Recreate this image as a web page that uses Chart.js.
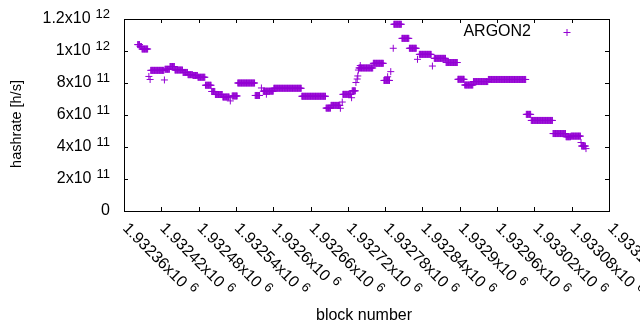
<!DOCTYPE html>
<html><head><meta charset="utf-8">
<script src="https://cdn.jsdelivr.net/npm/chart.js@4"></script>
<style>html,body{margin:0;padding:0;background:#fff}</style>
</head><body>
<canvas id="c" width="640" height="330"></canvas>
<script>
const seriesName = 'ARGON2';
// runs of constant hashrate: first block, last block, value [h/s]
const runStart = [1932382,1932386,1932389,1932400,1932402,1932403,1932425,1932426,1932434,1932442,1932455,1932463,1932471,1932479,1932491,1932501,1932507,1932519,1932531,1932534,1932543,1932571,1932581,1932584,1932589,1932601,1932646,1932685,1932693,1932708,1932711,1932712,1932726,1932727,1932733,1932735,1932736,1932737,1932738,1932740,1932761,1932778,1932784,1932789,1932793,1932794,1932807,1932819,1932832,1932835,1932856,1932859,1932878,1932897,1932908,1932922,1932946,1933007,1933015,1933050,1933071,1933079,1933095,1933096,1933103];
const runEnd   = [1932385,1932388,1932398,1932400,1932402,1932424,1932425,1932433,1932441,1932454,1932462,1932470,1932478,1932490,1932500,1932506,1932518,1932529,1932531,1932542,1932570,1932578,1932581,1932600,1932589,1932645,1932684,1932692,1932707,1932708,1932711,1932725,1932726,1932732,1932733,1932735,1932736,1932737,1932760,1932740,1932777,1932787,1932784,1932789,1932793,1932806,1932818,1932830,1932832,1932854,1932856,1932877,1932896,1932907,1932921,1932945,1933006,1933014,1933049,1933070,1933078,1933094,1933095,1933102,1933103];
const runValue = [1.04e12,1.028e12,1.0125e12,8.41e11,8.22e11,8.79e11,8.19e11,8.86e11,9.03e11,8.81e11,8.66e11,8.52e11,8.47e11,8.36e11,7.86e11,7.47e11,7.28e11,7.125e11,6.88e11,7.19e11,8.0e11,7.22e11,7.69e11,7.49e11,7.3e11,7.67e11,7.17e11,6.43e11,6.6e11,6.42e11,6.81e11,7.29e11,7.08e11,7.51e11,8.03e11,8.25e11,8.44e11,8.81e11,8.94e11,9.09e11,9.23e11,8.16e11,8.39e11,8.71e11,1.017e12,1.167e12,1.079e12,1.017e12,9.48e11,9.79e11,9.06e11,9.54e11,9.28e11,8.23e11,7.875e11,8.09e11,8.22e11,6.04e11,5.66e11,4.84e11,4.64e11,4.68e11,4.28e11,4.06e11,3.9e11];

const xTickValues = [1932360,1932420,1932480,1932540,1932600,1932660,1932720,1932780,1932840,1932900,1932960,1933020,1933080,1933140];
const xTickLabels = ['1.93236x10','1.93242x10','1.93248x10','1.93254x10','1.9326x10','1.93266x10','1.93272x10','1.93278x10','1.93284x10','1.9329x10','1.93296x10','1.93302x10','1.93308x10','1.93314x10'];
const xTickExp = '6';
const yTickValues = [0,2e11,4e11,6e11,8e11,1e12,1.2e12];
const yTickLabels = ['0','2x10','4x10','6x10','8x10','1x10','1.2x10'];
const yTickExps = ['','11','11','11','11','12','12'];
const xTitle = 'block number';
const yTitle = 'hashrate [h/s]';

const COLOR = '#9400d3';
const FONT = '"Liberation Sans", Arial, sans-serif';
const FS = 16, SFS = 13;

const points = [];
for (let i = 0; i < runStart.length; i++) {
  for (let b = runStart[i]; b <= runEnd[i]; b++) points.push({x: b, y: runValue[i]});
}

const frame = {
  id: 'frame',
  afterDraw(chart) {
    const ctx = chart.ctx, a = chart.chartArea, xs = chart.scales.x, ys = chart.scales.y;
    ctx.save();
    ctx.strokeStyle = '#000'; ctx.lineWidth = 1;
    ctx.strokeRect(a.left + 0.5, a.top + 0.5, a.right - a.left, a.bottom - a.top);
    ctx.beginPath();
    const T = 4;
    yTickValues.forEach(v => {
      const py = Math.round(ys.getPixelForValue(v)) + 0.5;
      ctx.moveTo(a.left, py); ctx.lineTo(a.left + T, py);
      ctx.moveTo(a.right, py); ctx.lineTo(a.right - T, py);
    });
    xTickValues.forEach(v => {
      const px = Math.round(xs.getPixelForValue(v)) + 0.5;
      ctx.moveTo(px, a.bottom); ctx.lineTo(px, a.bottom - T);
      ctx.moveTo(px, a.top); ctx.lineTo(px, a.top + T);
    });
    ctx.stroke();

    ctx.fillStyle = '#000';
    ctx.textBaseline = 'middle';
    // y labels
    yTickValues.forEach((v, i) => {
      const py = ys.getPixelForValue(v);
      const R = 110;
      let x = R;
      if (yTickExps[i]) {
        ctx.font = SFS + 'px ' + FONT; ctx.textAlign = 'right';
        ctx.fillText(yTickExps[i], R, py - 5);
        x = R - ctx.measureText(yTickExps[i]).width - 5;
      }
      ctx.font = FS + 'px ' + FONT; ctx.textAlign = 'right';
      ctx.fillText(yTickLabels[i], x, py);
    });
    // x labels rotated
    xTickValues.forEach((v, i) => {
      const px = xs.getPixelForValue(v);
      ctx.save();
      ctx.translate(px + 1, a.bottom + 15);
      ctx.rotate(Math.PI / 4);
      ctx.font = FS + 'px ' + FONT; ctx.textAlign = 'left';
      ctx.fillText(xTickLabels[i], 0, 0);
      const w = ctx.measureText(xTickLabels[i]).width;
      ctx.font = SFS + 'px ' + FONT;
      ctx.fillText(xTickExp, w + 5, -5);
      ctx.restore();
    });
    // titles
    ctx.font = FS + 'px ' + FONT; ctx.textAlign = 'center';
    ctx.fillText(xTitle, 364, 316);
    ctx.save();
    ctx.font = '14.5px ' + FONT;
    ctx.translate(17, 124); ctx.rotate(-Math.PI / 2);
    ctx.fillText(yTitle, 0, 0);
    ctx.restore();
    // legend
    ctx.font = FS + 'px ' + FONT;
    ctx.textAlign = 'right';
    ctx.fillText(seriesName, 531, 32);
    ctx.strokeStyle = COLOR;
    ctx.beginPath();
    ctx.moveTo(563.5, 32.5); ctx.lineTo(570.5, 32.5);
    ctx.moveTo(567, 29); ctx.lineTo(567, 36);
    ctx.stroke();
    ctx.restore();
  }
};

new Chart(document.getElementById('c'), {
  type: 'scatter',
  data: {datasets: [{label: seriesName, data: points, pointStyle: 'cross', pointRadius: 3.5, pointHoverRadius: 3.5, borderWidth: 1, borderColor: COLOR, backgroundColor: COLOR}]},
  options: {
    responsive: false, animation: false, devicePixelRatio: 1, events: [],
    layout: {padding: {left: 124, right: 31, top: 19, bottom: 119}},
    scales: {
      x: {type: 'linear', min: 1932360, max: 1933140, display: false},
      y: {type: 'linear', min: 0, max: 1.2e12, display: false}
    },
    plugins: {legend: {display: false}, tooltip: {enabled: false}}
  },
  plugins: [frame]
});
</script>
</body></html>
